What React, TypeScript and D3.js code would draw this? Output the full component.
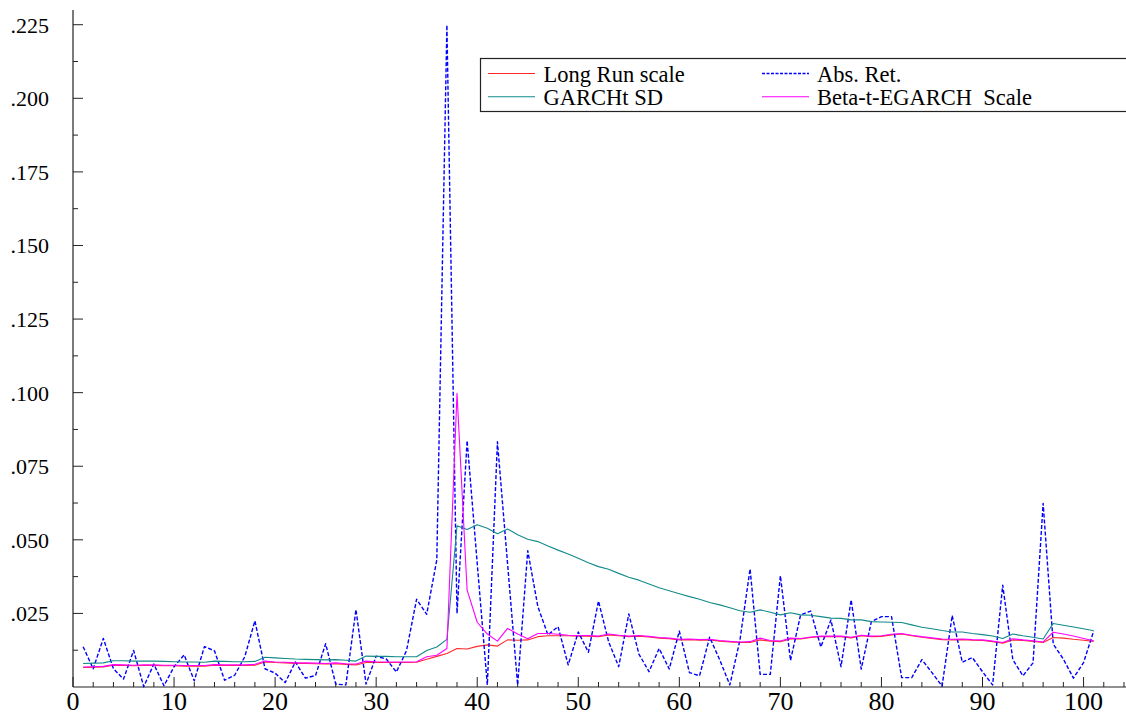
import React from "react";
import * as d3 from "d3";

// ---- data ----
const obs: number[] = d3.range(1, 102);

const absRet: number[] = [
  0.0137, 0.0062, 0.0165, 0.0062, 0.0027, 0.0124, 0.0001, 0.0078, 0.0004, 0.0069,
  0.0109, 0.0021, 0.0137, 0.0123, 0.0023, 0.0040, 0.0103, 0.0225, 0.0062, 0.0047,
  0.0015, 0.0085, 0.0030, 0.0039, 0.0147, 0.0010, 0.0007, 0.0263, 0.0010, 0.0105,
  0.0095, 0.0051, 0.0123, 0.0298, 0.0247, 0.0432, 0.2249, 0.0250, 0.0837, 0.0420,
  0.0007, 0.0833, 0.0420, 0.0007, 0.0463, 0.0273, 0.0177, 0.0205, 0.0075, 0.0187,
  0.0118, 0.0292, 0.0154, 0.0069, 0.0248, 0.0112, 0.0052, 0.0131, 0.0061, 0.0190,
  0.0049, 0.0038, 0.0169, 0.0092, 0.0007, 0.0160, 0.0401, 0.0043, 0.0043, 0.0378,
  0.0090, 0.0245, 0.0258, 0.0136, 0.0228, 0.0069, 0.0296, 0.0061, 0.0222, 0.0239,
  0.0239, 0.0032, 0.0032, 0.0093, 0.0049, 0.0003, 0.0243, 0.0084, 0.0100, 0.0052,
  0.0007, 0.0346, 0.0093, 0.0038, 0.0082, 0.0624, 0.0146, 0.0095, 0.0030, 0.0083,
  0.0190,
];

const garchSD: number[] = [
  0.0080, 0.0081, 0.0082, 0.0089, 0.0089, 0.0088, 0.0088, 0.0088, 0.0087, 0.0086,
  0.0085, 0.0085, 0.0084, 0.0088, 0.0087, 0.0086, 0.0086, 0.0087, 0.0101, 0.0099,
  0.0097, 0.0095, 0.0094, 0.0093, 0.0092, 0.0093, 0.0091, 0.0088, 0.0105, 0.0104,
  0.0104, 0.0103, 0.0103, 0.0103, 0.0124, 0.0136, 0.0162, 0.0548, 0.0535, 0.0551,
  0.0539, 0.0521, 0.0537, 0.0517, 0.0502, 0.0494, 0.0479, 0.0465, 0.0452, 0.0437,
  0.0422, 0.0409, 0.0400, 0.0386, 0.0373, 0.0363, 0.0350, 0.0337, 0.0327, 0.0317,
  0.0307, 0.0298, 0.0287, 0.0279, 0.0269, 0.0259, 0.0254, 0.0262, 0.0254, 0.0245,
  0.0252, 0.0245, 0.0244, 0.0239, 0.0234, 0.0233, 0.0228, 0.0228, 0.0222, 0.0221,
  0.0220, 0.0219, 0.0211, 0.0203, 0.0198, 0.0192, 0.0187, 0.0187, 0.0182, 0.0178,
  0.0173, 0.0165, 0.0180, 0.0174, 0.0169, 0.0163, 0.0216, 0.0210, 0.0204, 0.0198,
  0.0191,
];

const longRun: number[] = [
  0.0066, 0.0067, 0.0068, 0.0074, 0.0073, 0.0072, 0.0073, 0.0073, 0.0072, 0.0072,
  0.0071, 0.0071, 0.0071, 0.0074, 0.0073, 0.0073, 0.0073, 0.0074, 0.0085, 0.0083,
  0.0082, 0.0080, 0.0080, 0.0079, 0.0078, 0.0079, 0.0077, 0.0075, 0.0083, 0.0083,
  0.0083, 0.0083, 0.0083, 0.0084, 0.0094, 0.0104, 0.0114, 0.0131, 0.0129, 0.0138,
  0.0143, 0.0139, 0.0160, 0.0159, 0.0160, 0.0171, 0.0174, 0.0174, 0.0174, 0.0173,
  0.0173, 0.0171, 0.0177, 0.0174, 0.0171, 0.0173, 0.0170, 0.0166, 0.0164, 0.0160,
  0.0161, 0.0159, 0.0160, 0.0156, 0.0153, 0.0151, 0.0151, 0.0160, 0.0156, 0.0154,
  0.0163, 0.0163, 0.0168, 0.0171, 0.0171, 0.0171, 0.0167, 0.0174, 0.0171, 0.0172,
  0.0177, 0.0180, 0.0174, 0.0169, 0.0165, 0.0161, 0.0160, 0.0161, 0.0159, 0.0158,
  0.0154, 0.0149, 0.0160, 0.0158, 0.0155, 0.0151, 0.0168, 0.0166, 0.0162, 0.0159,
  0.0155,
];

const betaTEgarch: number[] = [
  0.0068, 0.0069, 0.0070, 0.0076, 0.0075, 0.0074, 0.0075, 0.0075, 0.0074, 0.0074,
  0.0073, 0.0073, 0.0073, 0.0076, 0.0075, 0.0075, 0.0075, 0.0077, 0.0088, 0.0085,
  0.0084, 0.0082, 0.0082, 0.0081, 0.0080, 0.0082, 0.0079, 0.0078, 0.0088, 0.0086,
  0.0085, 0.0085, 0.0085, 0.0086, 0.0103, 0.0108, 0.0131, 0.0998, 0.0329, 0.0220,
  0.0180, 0.0156, 0.0199, 0.0180, 0.0164, 0.0182, 0.0182, 0.0179, 0.0176, 0.0175,
  0.0175, 0.0173, 0.0180, 0.0176, 0.0173, 0.0175, 0.0172, 0.0168, 0.0166, 0.0162,
  0.0163, 0.0161, 0.0162, 0.0158, 0.0155, 0.0153, 0.0154, 0.0166, 0.0158, 0.0156,
  0.0166, 0.0165, 0.0170, 0.0173, 0.0173, 0.0173, 0.0169, 0.0176, 0.0173, 0.0174,
  0.0179, 0.0182, 0.0176, 0.0171, 0.0167, 0.0163, 0.0162, 0.0163, 0.0161, 0.0160,
  0.0156, 0.0151, 0.0164, 0.0160, 0.0157, 0.0153, 0.0186, 0.0180, 0.0173, 0.0165,
  0.0157,
];

const yTickValues: number[] = [0.025, 0.05, 0.075, 0.1, 0.125, 0.15, 0.175, 0.2, 0.225];
const yTickLabels: string[] = [".025", ".050", ".075", ".100", ".125", ".150", ".175", ".200", ".225"];
const xTickValues: number[] = [0, 10, 20, 30, 40, 50, 60, 70, 80, 90, 100];

const seriesNames: string[] = ["Long Run scale", "Abs. Ret.", "GARCHt SD", "Beta-t-EGARCH  Scale"];

const W = 1126;
const H = 719;
const FONT = "Liberation Serif";

export default function App() {
  const x = d3.scaleLinear().domain([0, 104.2]).range([73, 1126]);
  const y = d3.scaleLinear().domain([0, 0.23]).range([687, 10]);

  const line = (vals: number[]) =>
    d3
      .line<number>()
      .x((_, i) => x(obs[i]))
      .y((v) => y(v))(vals) || "";

  const xMinor = d3.range(0, 105, 2);
  const yMinor = d3.range(0.0125, 0.23, 0.025);

  const series = [
    { name: seriesNames[0], vals: longRun, color: "#ff2a2a", dash: "", w: 1.1 },
    { name: seriesNames[1], vals: absRet, color: "#0000ff", dash: "4,2", w: 1.4 },
    { name: seriesNames[2], vals: garchSD, color: "#138a8a", dash: "", w: 1.1 },
    { name: seriesNames[3], vals: betaTEgarch, color: "#ff00ff", dash: "", w: 1.1 },
  ];

  const legendPos = [
    { lx: 488, tx: 543.5, ly: 73.5 },
    { lx: 762, tx: 817, ly: 73.5 },
    { lx: 488, tx: 543.5, ly: 96.7 },
    { lx: 762, tx: 817, ly: 96.7 },
  ];

  const textStyle: React.CSSProperties = { fontFamily: FONT, whiteSpace: "pre" };

  return (
    <svg
      width={W}
      height={H}
      style={{ position: "absolute", left: 0, top: 0, background: "#fff" }}
    >
      <rect x={0} y={0} width={W} height={H} fill="#fff" />
      {/* axes */}
      <line x1={x(0)} x2={x(0)} y1={y(0.23)} y2={y(0)} stroke="#222" strokeWidth={1.2} />
      <line x1={x(0)} x2={W} y1={y(0)} y2={y(0)} stroke="#222" strokeWidth={1.2} />
      {/* y ticks */}
      {yTickValues.map((v, i) => (
        <g key={"yt" + i}>
          <line x1={x(0)} x2={x(0) + 10} y1={y(v)} y2={y(v)} stroke="#222" strokeWidth={1} />
          <text x={49} y={y(v) + 8} textAnchor="end" fontSize={22} fill="#000" style={textStyle}>
            {yTickLabels[i]}
          </text>
        </g>
      ))}
      {yMinor.map((v, i) => (
        <line key={"ym" + i} x1={x(0)} x2={x(0) + 5} y1={y(v)} y2={y(v)} stroke="#222" strokeWidth={1} />
      ))}
      {/* x ticks */}
      {xMinor.map((v) => (
        <line
          key={"xm" + v}
          x1={x(v)}
          x2={x(v)}
          y1={y(0)}
          y2={y(0) - (v % 10 === 0 ? 10 : 5)}
          stroke="#222"
          strokeWidth={1}
        />
      ))}
      {xTickValues.map((v) => (
        <text
          key={"xl" + v}
          x={x(v)}
          y={710}
          textAnchor="middle"
          fontSize={26}
          fill="#000"
          style={textStyle}
        >
          {String(v)}
        </text>
      ))}
      {/* series */}
      {series.map((s) => (
        <path
          key={s.name}
          d={line(s.vals)}
          fill="none"
          stroke={s.color}
          strokeWidth={s.w}
          strokeDasharray={s.dash || undefined}
          strokeLinejoin="round"
        />
      ))}
      {/* legend */}
      <rect x={480.5} y={58.5} width={700} height={53} fill="#fff" stroke="#222" strokeWidth={1.2} />
      {series.map((s, i) => (
        <g key={"lg" + i}>
          <line
            x1={legendPos[i].lx}
            x2={legendPos[i].lx + 47}
            y1={legendPos[i].ly}
            y2={legendPos[i].ly}
            stroke={s.color}
            strokeWidth={s.w}
            strokeDasharray={s.dash ? "3,1.5" : undefined}
          />
          <text
            x={legendPos[i].tx}
            y={legendPos[i].ly + 8.5}
            fontSize={22.5}
            fill="#000"
            style={textStyle}
          >
            {s.name}
          </text>
        </g>
      ))}
    </svg>
  );
}
